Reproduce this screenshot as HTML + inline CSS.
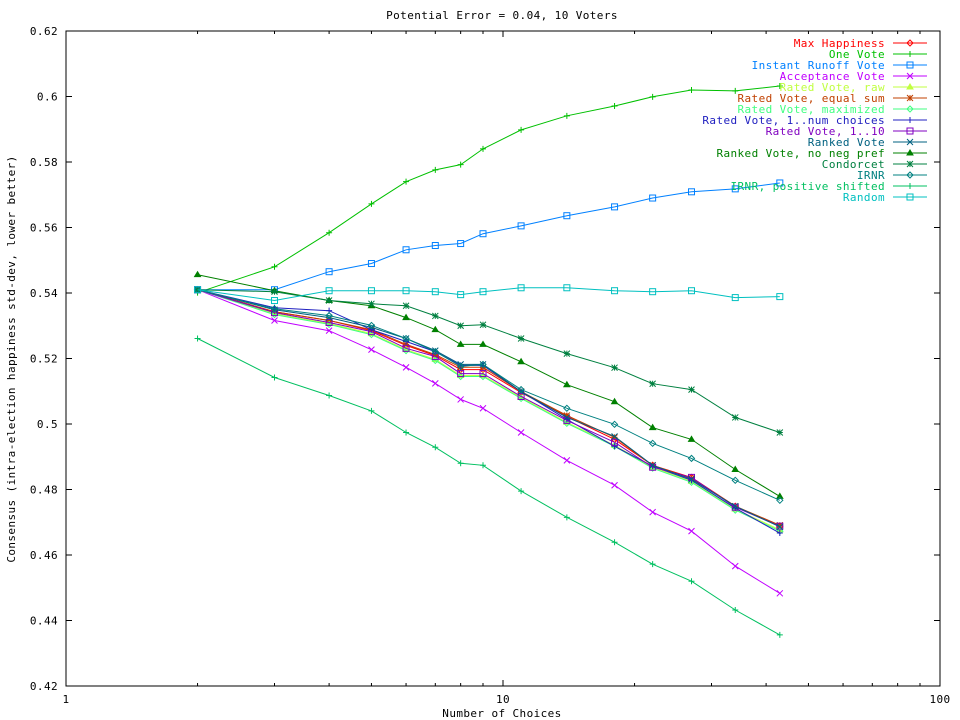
<!DOCTYPE html>
<html><head><meta charset="utf-8"><style>
body{margin:0;background:#fff}
svg{display:block}
text{font-family:"DejaVu Sans Mono","Liberation Mono",monospace;font-size:11px;letter-spacing:0.4px}
</style></head><body>
<svg id="chart" width="960" height="720" viewBox="0 0 960 720" xmlns="http://www.w3.org/2000/svg">
<text x="502" y="19" text-anchor="middle">Potential Error = 0.04, 10 Voters</text>
<text x="502" y="717" text-anchor="middle">Number of Choices</text>
<text transform="translate(15,359) rotate(-90)" text-anchor="middle">Consensus (intra-election happiness std-dev, lower better)</text>
<rect x="66" y="31" width="874" height="655" fill="none" stroke="#000" stroke-width="1"/>
<g id="axes"></g>
<g id="series"></g>
<g id="legend"></g>
</svg>
<script>
const categories=[2,3,4,5,6,7,8,9,11,14,18,22,27,34,43];
const seriesNames=["Max Happiness","One Vote","Instant Runoff Vote","Acceptance Vote","Rated Vote, raw","Rated Vote, equal sum","Rated Vote, maximized","Rated Vote, 1..num choices","Rated Vote, 1..10","Ranked Vote","Ranked Vote, no neg pref","Condorcet","IRNR","IRNR, positive shifted","Random"];
const maxHappiness=[0.5410,0.5343,0.5316,0.5285,0.5240,0.5209,0.5166,0.5166,0.5096,0.5023,0.4953,0.4874,0.4837,0.4749,0.4688];
const oneVote=[0.5401,0.5480,0.5584,0.5672,0.5740,0.5776,0.5792,0.5840,0.5898,0.5941,0.5971,0.5999,0.6020,0.6017,0.6032];
const instantRunoff=[0.5410,0.5410,0.5465,0.5490,0.5532,0.5545,0.5551,0.5581,0.5605,0.5636,0.5663,0.5690,0.5709,0.5718,0.5736];
const acceptance=[0.5410,0.5316,0.5285,0.5227,0.5173,0.5124,0.5075,0.5048,0.4974,0.4889,0.4813,0.4731,0.4673,0.4566,0.4483];
const ratedRaw=[0.5410,0.5337,0.5307,0.5276,0.5227,0.5197,0.5148,0.5148,0.5081,0.5005,0.4935,0.4868,0.4825,0.4740,0.4677];
const ratedEqualSum=[0.5410,0.5343,0.5316,0.5288,0.5243,0.5212,0.5173,0.5173,0.5099,0.5026,0.4959,0.4874,0.4834,0.4749,0.4691];
const ratedMaximized=[0.5410,0.5334,0.5304,0.5273,0.5224,0.5194,0.5145,0.5145,0.5078,0.5002,0.4932,0.4865,0.4822,0.4737,0.4673];
const ratedNumChoices=[0.5410,0.5355,0.5346,0.5288,0.5252,0.5221,0.5179,0.5179,0.5099,0.5014,0.4932,0.4871,0.4828,0.4743,0.4667];
const rated1to10=[0.5410,0.5340,0.5310,0.5282,0.5231,0.5206,0.5154,0.5154,0.5084,0.5011,0.4944,0.4868,0.4837,0.4746,0.4688];
const rankedVote=[0.5410,0.5349,0.5325,0.5295,0.5261,0.5224,0.5182,0.5182,0.5099,0.5020,0.4962,0.4874,0.4831,0.4749,0.4686];
const rankedNoNeg=[0.5456,0.5407,0.5377,0.5361,0.5325,0.5288,0.5243,0.5243,0.5190,0.5120,0.5068,0.4989,0.4953,0.4861,0.4779];
const condorcet=[0.5410,0.5404,0.5377,0.5367,0.5361,0.5330,0.5300,0.5303,0.5261,0.5215,0.5172,0.5123,0.5105,0.5020,0.4974];
const irnr=[0.5410,0.5352,0.5331,0.5301,0.5261,0.5221,0.5176,0.5182,0.5105,0.5048,0.4999,0.4941,0.4895,0.4828,0.4767];
const irnrPositive=[0.5261,0.5142,0.5087,0.5040,0.4974,0.4929,0.4880,0.4874,0.4795,0.4715,0.4639,0.4572,0.4520,0.4432,0.4356];
const randomVote=[0.5410,0.5377,0.5407,0.5407,0.5407,0.5404,0.5395,0.5404,0.5416,0.5416,0.5407,0.5404,0.5407,0.5386,0.5389];
const seriesValues=[maxHappiness,oneVote,instantRunoff,acceptance,ratedRaw,ratedEqualSum,ratedMaximized,ratedNumChoices,rated1to10,rankedVote,rankedNoNeg,condorcet,irnr,irnrPositive,randomVote];
const yTicks=["0.42","0.44","0.46","0.48","0.5","0.52","0.54","0.56","0.58","0.6","0.62"];
const xTicks=["1","10","100"];

const colors=["#ff0000","#00c000","#0080ff","#c000ff","#c0ff40","#c04000","#40ff80","#2020c0","#8000c0","#006080","#008000","#008040","#008080","#00c060","#00c0c0"];
const markers=["diamond","plus","square","cross","triangle","star","diamond","plus","square","cross","triangle","star","diamond","plus","square"];
const NS="http://www.w3.org/2000/svg";
const L=66,R=940,T=31,B=686;
function xs(v){return L+Math.log10(v)/2*(R-L);}
function ys(v){return B-(v-0.42)/0.2*(B-T);}
function mk(tag,attrs,parent){const e=document.createElementNS(NS,tag);for(const k in attrs)e.setAttribute(k,attrs[k]);parent.appendChild(e);return e;}
const axes=document.getElementById('axes');
yTicks.forEach(t=>{
  const y=ys(parseFloat(t));
  const l1=mk('line',{x1:L,x2:L+6,y1:y,y2:y,stroke:'#000'},axes);
  
  
  const l2=mk('line',{x1:R-6,x2:R,y1:y,y2:y,stroke:'#000'},axes);
  
  
  const tx=mk('text',{x:L-8,y:y+4,'text-anchor':'end'},axes);
  tx.textContent=t;
  
  
});
xTicks.forEach(t=>{
  const x=xs(parseFloat(t));
  const l1=mk('line',{x1:x,x2:x,y1:B,y2:B-6,stroke:'#000'},axes);
  
  
  const l2=mk('line',{x1:x,x2:x,y1:T,y2:T+6,stroke:'#000'},axes);
  
  
  const tx=mk('text',{x:x,y:B+17,'text-anchor':'middle'},axes);
  tx.textContent=t;
  
  
});
[1,10].forEach(d=>{for(let m=2;m<10;m++){const x=xs(d*m);
  const a=mk('line',{x1:x,x2:x,y1:B,y2:B-3,stroke:'#000'},axes);
  
  
  const b=mk('line',{x1:x,x2:x,y1:T,y2:T+3,stroke:'#000'},axes);
  
  
}});
function marker(type,x,y,c,parent){
  const g=mk('g',{stroke:c,fill:'none','stroke-width':1},parent);
  const s=3;
  if(type==='diamond')mk('path',{d:`M${x-s} ${y}L${x} ${y-s}L${x+s} ${y}L${x} ${y+s}Z`},g);
  else if(type==='plus')mk('path',{d:`M${x-s} ${y}H${x+s}M${x} ${y-s}V${y+s}`},g);
  else if(type==='square')mk('rect',{x:x-s,y:y-s,width:2*s,height:2*s},g);
  else if(type==='cross')mk('path',{d:`M${x-s} ${y-s}L${x+s} ${y+s}M${x-s} ${y+s}L${x+s} ${y-s}`},g);
  else if(type==='triangle'){g.setAttribute('fill',c);mk('path',{d:`M${x-s} ${y+2}L${x} ${y-s}L${x+s} ${y+2}Z`},g);}
  else if(type==='star')mk('path',{d:`M${x-s} ${y}H${x+s}M${x} ${y-s}V${y+s}M${x-s} ${y-s}L${x+s} ${y+s}M${x-s} ${y+s}L${x+s} ${y-s}`},g);
  return g;
}
const sg=document.getElementById('series');
const lg=document.getElementById('legend');
seriesValues.forEach((vals,i)=>{
  const g=mk('g',{},sg);
  
  
  const pts=vals.map((v,j)=>xs(categories[j]).toFixed(1)+','+ys(v).toFixed(1)).join(' ');
  const pl=mk('polyline',{points:pts,fill:'none',stroke:colors[i],'stroke-width':1},g);
  
  
  vals.forEach((v,j)=>{
    const m=marker(markers[i],xs(categories[j]),ys(v),colors[i],g);
    
    
  });
  const ly=43+i*11;
  const le=mk('g',{},lg);
  
  
  const t=mk('text',{x:885,y:ly+4,'text-anchor':'end',fill:colors[i]},le);
  t.textContent=seriesNames[i];
  mk('line',{x1:893,x2:927,y1:ly,y2:ly,stroke:colors[i]},le);
  marker(markers[i],910,ly,colors[i],le);
});
</script>
</body></html>
